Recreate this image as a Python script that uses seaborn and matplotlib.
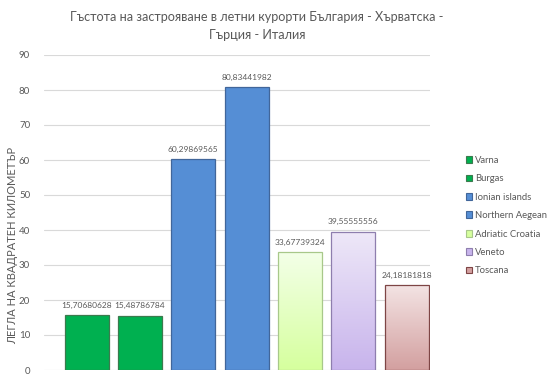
import numpy as np
import pandas as pd
import matplotlib
matplotlib.use("Agg")
import matplotlib.pyplot as plt
import seaborn as sns
from matplotlib.colors import LinearSegmentedColormap
from matplotlib.patches import Patch

regions = ["Varna", "Burgas", "Ionian islands", "Northern Aegean",
           "Adriatic Croatia", "Veneto", "Toscana"]
density = [15.70680628, 15.48786784, 60.29869565, 80.83441982,
           33.67739324, 39.55555556, 24.18181818]

fills = ["#00B050", "#00B050", "#558ED5", "#558ED5", "#E4FFC4", "#DCCEF1", "#E9C6C6"]
edges = ["#3C7A4E", "#3C7A4E", "#41669A", "#41669A", "#A8C88A", "#8E7EAE", "#7E4545"]
# gradients (top, bottom) for the light bars
grads = {4: ("#F3FFE8", "#D6FF9E"), 5: ("#EEE8F8", "#C8B4EC"), 6: ("#F3E3E3", "#D3A0A0")}

df = pd.DataFrame({"region": regions, "density": density})

sns.set_style("white")
plt.rcParams["font.family"] = ["Lato", "DejaVu Sans"]

fig = plt.figure(figsize=(5.5, 3.82), dpi=100)
ax = fig.add_axes([44 / 550, 1 - 370 / 382, (430 - 44) / 550, (370 - 55) / 382])

sns.barplot(data=df, x="region", y="density", hue="region", palette=fills,
            width=0.825, legend=False, ax=ax, saturation=1)

for i, bar in enumerate(ax.patches[:len(regions)]):
    bar.set_edgecolor(edges[i])
    bar.set_linewidth(0.9)
    if i in grads:
        top, bot = grads[i]
        cmap = LinearSegmentedColormap.from_list("g", [bot, top])
        x0, w, h = bar.get_x(), bar.get_width(), bar.get_height()
        img = ax.imshow(np.linspace(0, 1, 100).reshape(-1, 1), cmap=cmap,
                        extent=[x0, x0 + w, 0, h], origin="lower",
                        aspect="auto", zorder=bar.get_zorder() - 0.1)
        img.set_clip_path(bar)
        bar.set_facecolor("none")
        bar.set_zorder(bar.get_zorder() + 0.2)
    label = f"{density[i]:.8f}".replace(".", ",")
    ax.text(bar.get_x() + bar.get_width() / 2, density[i] + 1.8, label,
            ha="center", va="bottom", fontsize=6, color="#595959")

ax.set_xlim(-0.8, 6.44)
ax.set_ylim(0, 90)
ax.set_yticks(range(0, 91, 10))
ax.tick_params(axis="y", labelsize=7, colors="#595959", length=0, pad=10)
ax.set_xticks([])
ax.set_xlabel("")
ax.set_ylabel("")
ax.yaxis.grid(True, color="#D9D9D9", linewidth=0.8)
ax.set_axisbelow(True)
for s in ax.spines.values():
    s.set_visible(False)

fig.text(13 / 550, 1 - 245 / 382, "ЛЕГЛА НА КВАДРАТЕН КИЛОМЕТЪР", rotation=90,
         ha="center", va="center", fontsize=8, color="#595959")
fig.text(257 / 550, 1 - 26 / 382,
         "Гъстота на застрояване в летни курорти България - Хърватска -\nГърция - Италия",
         ha="center", va="center", fontsize=9.1, color="#595959", linespacing=1.55)

handles = [Patch(facecolor=fills[i] if i not in grads else grads[i][1], edgecolor=edges[i],
                 linewidth=0.8, label=regions[i]) for i in range(len(regions))]
fig.legend(handles=handles, loc="upper left", bbox_to_anchor=(462 / 550, 1 - 152 / 382),
           frameon=False, fontsize=6.8, labelcolor="#595959", handlelength=0.7,
           handleheight=0.7, handletextpad=0.3, labelspacing=1.0, borderaxespad=0)

fig.savefig("out.png", dpi=100)
